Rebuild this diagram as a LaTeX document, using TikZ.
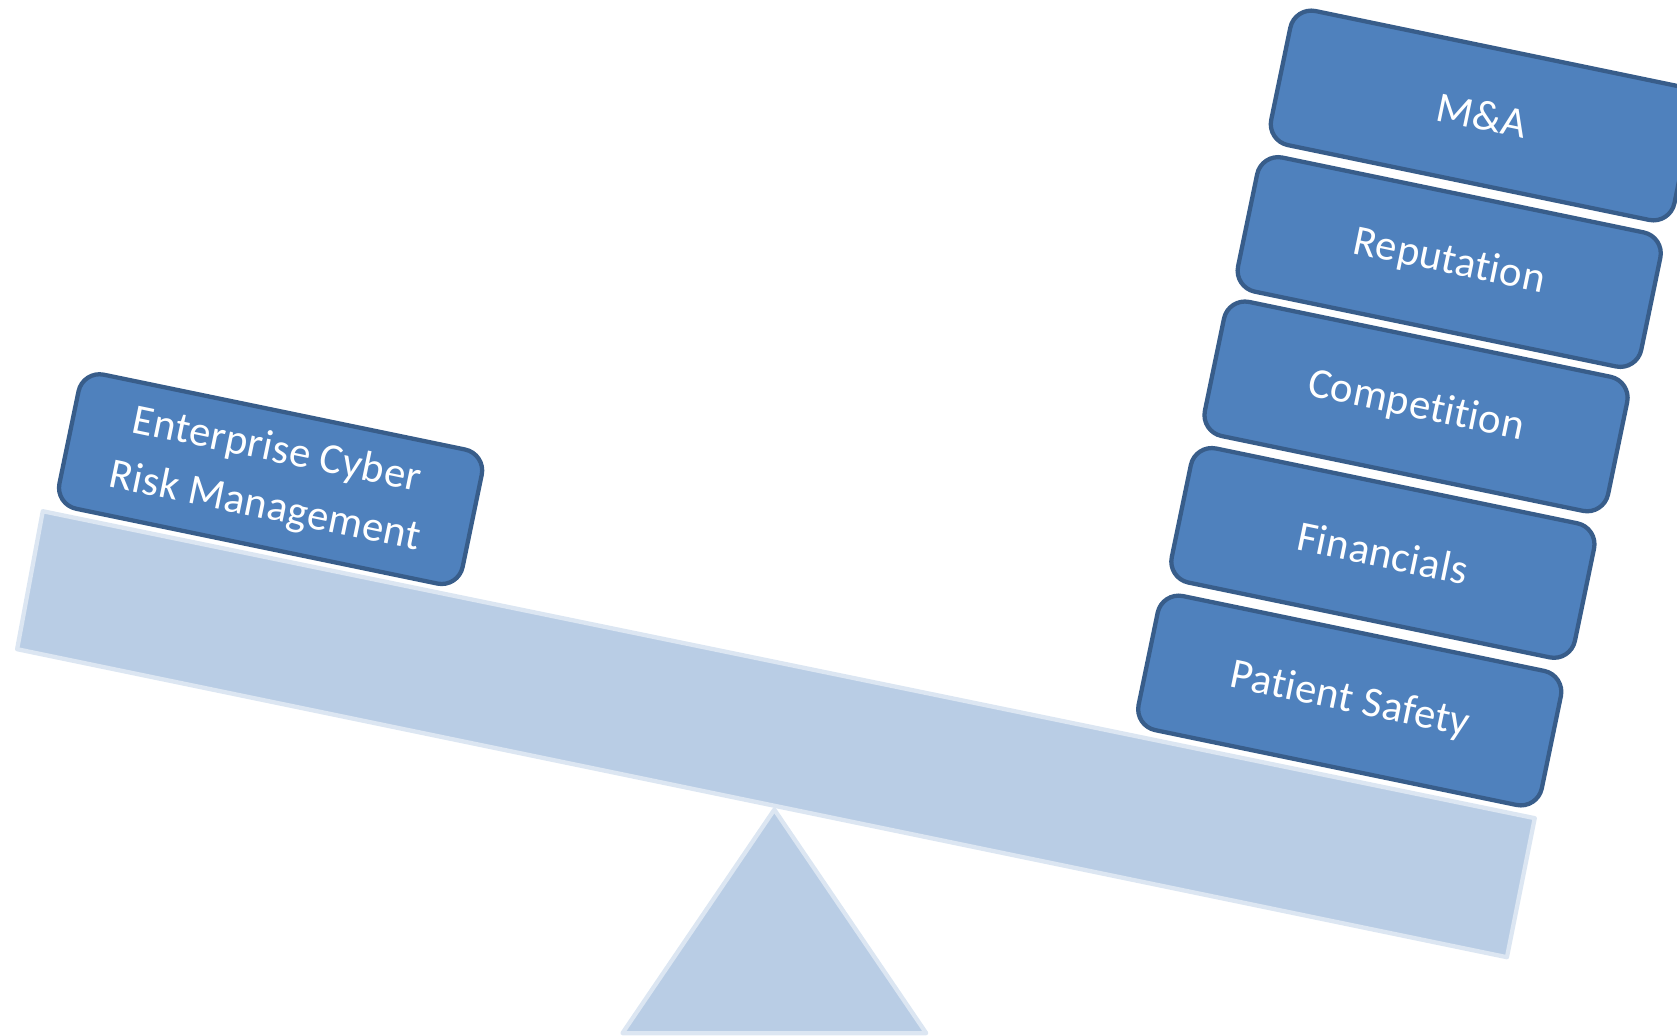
\documentclass[tikz,border=0pt]{standalone}
\usepackage{fontspec}
\setmainfont{Carlito}[Ligatures=NoCommon,LetterSpace=0.8]
\definecolor{boxfill}{HTML}{4F81BD}
\definecolor{boxline}{HTML}{385D8A}
\definecolor{beamfill}{HTML}{B9CDE5}
\definecolor{beamline}{HTML}{DCE6F2}
\begin{document}
\begin{tikzpicture}[x=1pt,y=1pt,
  wbox/.style={draw=boxline, fill=boxfill, line width=4pt, rounded corners=20pt,
    minimum width=385pt, minimum height=128pt, rotate=-11.7, text=white,
    font=\fontsize{40}{54}\selectfont, align=center, inner sep=0pt},
  plate/.style={fill=beamfill, draw=beamline, line width=4pt, line join=round}]
\useasboundingbox (0,0) rectangle (1568,968);
\coordinate (b1) at (40,490);
\coordinate (b2) at (1435,203);
\coordinate (b3) at (1409,73);
\coordinate (b4) at (16,361);
\path[plate] (b1) -- (b2) -- (b3) -- (b4) -- cycle;
\coordinate (t1) at (724,211);
\coordinate (t2) at (866,2);
\coordinate (t3) at (582,2);
\path[plate] (t1) -- (t2) -- (t3) -- cycle;
\node[wbox] (ecrm) at (253,520) {Enterprise Cyber\\Risk Management};
\node[wbox] (ps) at (1262,313) {Patient Safety};
\node[wbox] (fin) at (1293,451) {Financials};
\node[wbox] (comp) at (1324,588) {Competition};
\node[wbox] (rep) at (1355,723) {Reputation};
\node[wbox] (ma) at (1386,860) {M\&A};
\end{tikzpicture}
\end{document}
